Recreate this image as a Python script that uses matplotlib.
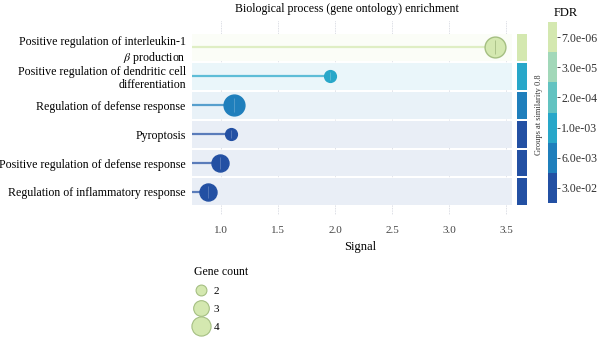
import matplotlib
matplotlib.use("Agg")
import matplotlib.pyplot as plt
import numpy as np
from matplotlib.lines import Line2D
from matplotlib.colors import to_rgb

plt.rcParams['font.family'] = ['Liberation Serif', 'DejaVu Serif']
plt.rcParams['mathtext.fontset'] = 'stix'

terms = ["Positive regulation of interleukin-1\n$\\beta$ production",
         "Positive regulation of dendritic cell\ndifferentiation",
         "Regulation of defense response",
         "Pyroptosis",
         "Positive regulation of defense response",
         "Regulation of inflammatory response"]
signal = [3.40, 1.96, 1.11, 1.09, 0.99, 0.89]
gene_count = [4, 2, 4, 2, 3, 3]
fdr_bin = [0, 3, 4, 5, 5, 5]      # index into the FDR colour bins
group_bin = [0, 3, 4, 5, 5, 5]

fdr_labels = ["7.0e-06", "3.0e-05", "2.0e-04", "1.0e-03", "6.0e-03", "3.0e-02"]
fdr_colors = ["#d4e8b0", "#a2d8b9", "#63c3c1", "#28a7c9", "#1f7fbc", "#2350a3"]
count_levels = [2, 3, 4]
count_size = {2: 72, 3: 150, 4: 225}

def tint(c, a):
    r = np.array(to_rgb(c))
    return tuple(1 - a * (1 - r))

fig = plt.figure(figsize=(6, 3.37), dpi=100)
ax = fig.add_axes([190/600, 1 - 215/337, 340/600, 195/337])

n = len(terms)
ypos = np.arange(n)[::-1]
x0, x1 = 0.745, 3.555

ax.set_xlim(0.728, 3.711)
ax.set_ylim(-0.8, n - 0.05)

for xv in [1.0, 1.5, 2.0, 2.5, 3.0, 3.5]:
    ax.axvline(xv, color="#d0d4dc", lw=0.6, ls=(0, (1, 1)), zorder=0)

for i in range(n):
    y = ypos[i]
    gc = fdr_colors[group_bin[i]]
    ax.barh(y, x1 - x0, left=x0, height=0.93, color=tint(gc, 0.1), zorder=1)
    ax.barh(y, 0.088, left=3.596, height=0.93, color=gc, zorder=1)
    c = fdr_colors[fdr_bin[i]]
    ax.plot([x0, signal[i]], [y, y], color=tint(c, 0.75), lw=1.6, zorder=2,
            solid_capstyle="butt")
    edge = "#a5bf82" if fdr_bin[i] == 0 else c
    ax.scatter(signal[i], y, s=count_size[gene_count[i]], color=c,
               edgecolor=edge, lw=1.0, zorder=3)
    ax.scatter(signal[i], y, s=count_size[gene_count[i]] * 0.5, marker="|",
               color=tint(edge, 0.7) if fdr_bin[i] else "#9cb47a", lw=0.5, zorder=4)

ax.set_yticks(ypos)
ax.set_yticklabels(terms, fontsize=8.6, linespacing=1.15)
ax.set_xticks([1.0, 1.5, 2.0, 2.5, 3.0, 3.5])
ax.set_xticklabels(["1.0", "1.5", "2.0", "2.5", "3.0", "3.5"], fontsize=8,
                   color="#444444")
ax.tick_params(length=0, pad=3)
ax.tick_params(axis="x", pad=8)
for sp in ax.spines.values():
    sp.set_visible(False)
ax.set_xlabel("Signal", fontsize=9, labelpad=4)
fig.text(347/600, 1 - 9/337, "Biological process (gene ontology) enrichment",
         fontsize=8.6, ha="center", va="center")

fig.text(539/600, 1 - 115/337, "Groups at similarity 0.8", rotation=90,
         fontsize=6, ha="center", va="center", color="#333333")

# FDR colour bar
cax = fig.add_axes([548/600, 1 - 203/337, 9/600, 181/337])
for k, col in enumerate(fdr_colors):
    cax.barh(len(fdr_colors) - 1 - k, 1, left=0, height=1.0, color=col)
cax.set_xlim(0, 1)
cax.set_ylim(-0.5, len(fdr_colors) - 0.5)
cax.set_xticks([])
cax.yaxis.tick_right()
cax.set_yticks(np.arange(len(fdr_colors))[::-1])
cax.set_yticklabels(fdr_labels, fontsize=8.6, color="#333333")
cax.tick_params(axis="y", length=2, width=0.6, pad=1, color="#333333")
for sp in cax.spines.values():
    sp.set_visible(False)
fig.text(566/600, 1 - 13/337, "FDR", fontsize=9, ha="center", va="center")

# gene count legend
handles = [Line2D([], [], marker="o", ls="", markersize=np.sqrt(count_size[c]) * 0.92,
                  markerfacecolor="#d4e8b0", markeredgecolor="#a5bf82",
                  markeredgewidth=0.8) for c in count_levels]
leg = fig.legend(handles, [str(c) for c in count_levels], title="Gene count",
                 loc="upper left", bbox_to_anchor=(186/600, 1 - 258/337),
                 frameon=False, fontsize=8, title_fontsize=8.5,
                 labelspacing=0.75, handletextpad=0.5, handlelength=1.3,
                 borderpad=0.2)
leg._legend_box.align = "left"

fig.savefig("out.png", dpi=100)
